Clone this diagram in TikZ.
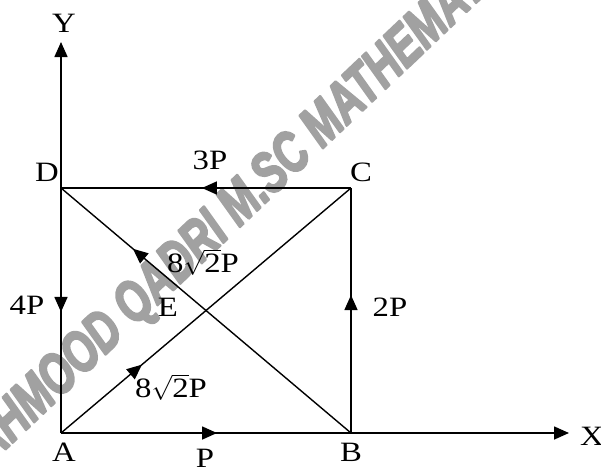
\documentclass[tikz,border=0pt]{standalone}
\usepackage{fontspec}
\setmainfont{Liberation Serif}[FakeStretch=1.17]
\newfontfamily\wmfont{Liberation Sans}
\usetikzlibrary{arrows.meta,decorations.markings}
\definecolor{wmgray}{gray}{0.63}
\tikzset{
  edge/.style={line width=1.6pt},
  diag/.style={line width=1.4pt},
  axis/.style={line width=1.6pt,-{Triangle[length=15pt,width=13pt]}},
  midarrow/.style={postaction={decorate},decoration={markings,mark=at position #1 with {\arrow{Triangle[length=15pt,width=13pt]}}}},
  lbl/.style={inner sep=0pt,font=\fontsize{28}{30}\selectfont},
  pt/.style={inner sep=0pt,minimum size=0pt},
  wmark/.style={rotate=43.5,text=wmgray,inner sep=0pt}
}
\newcommand{\wmtext}{\resizebox{790pt}{40pt}{\special{pdf:literal 2 Tr 0.45 w 1 j 1 J}\wmfont\bfseries\itshape MAHMOOD QADRI M.SC MATHEMATICS\special{pdf:literal 0 Tr 0 j 0 J}}}
\begin{document}
\begin{tikzpicture}[x=1pt,y=-1pt]
\useasboundingbox (0,0) rectangle (601,466);
\begin{scope}
\clip (0,0) rectangle (601,466);
\node[wmark] (wm) at (242,205) {\wmtext};
\end{scope}
\node[pt] (A) at (61,433) {};
\node[pt] (B) at (351,433) {};
\node[pt] (C) at (351,188) {};
\node[pt] (D) at (61,188) {};
\coordinate (Ytip) at (61,42);
\coordinate (Xtip) at (569,433);
% axes
\draw[axis] (A.center) -- (Ytip);
\draw[axis] (A.center) -- (Xtip);
% sides with force arrows
\draw[edge,midarrow=0.538] (A.center) -- (B.center);
\draw[edge,midarrow=0.563] (B.center) -- (C.center);
\draw[edge,midarrow=0.514] (C.center) -- (D.center);
\draw[edge,midarrow=0.506] (D.center) -- (A.center);
% diagonals
\draw[diag,midarrow=0.279] (A.center) -- (C.center);
\draw[diag,midarrow=0.752] (B.center) -- (D.center);
% labels
\node[lbl] (lY) at (64,23) {Y};
\node[lbl] (lX) at (592,436) {X};
\node[lbl] (lD) at (47,172) {D};
\node[lbl] (lC) at (361,172) {C};
\node[lbl] (lA) at (64,452) {A};
\node[lbl] (lB) at (351,452) {B};
\node[lbl] (lE) at (168,307) {E};
\node[lbl] (l3P) at (210,160) {3P};
\node[lbl] (l4P) at (27,305) {4P};
\node[lbl] (l2P) at (390,307) {2P};
\node[lbl] (lP) at (205,458) {P};
\node[lbl] (lbd) at (203,262) {8$\sqrt{\mbox{2}}$P};
\node[lbl] (lac) at (171,387) {8$\sqrt{\mbox{2}}$P};
\end{tikzpicture}
\end{document}
